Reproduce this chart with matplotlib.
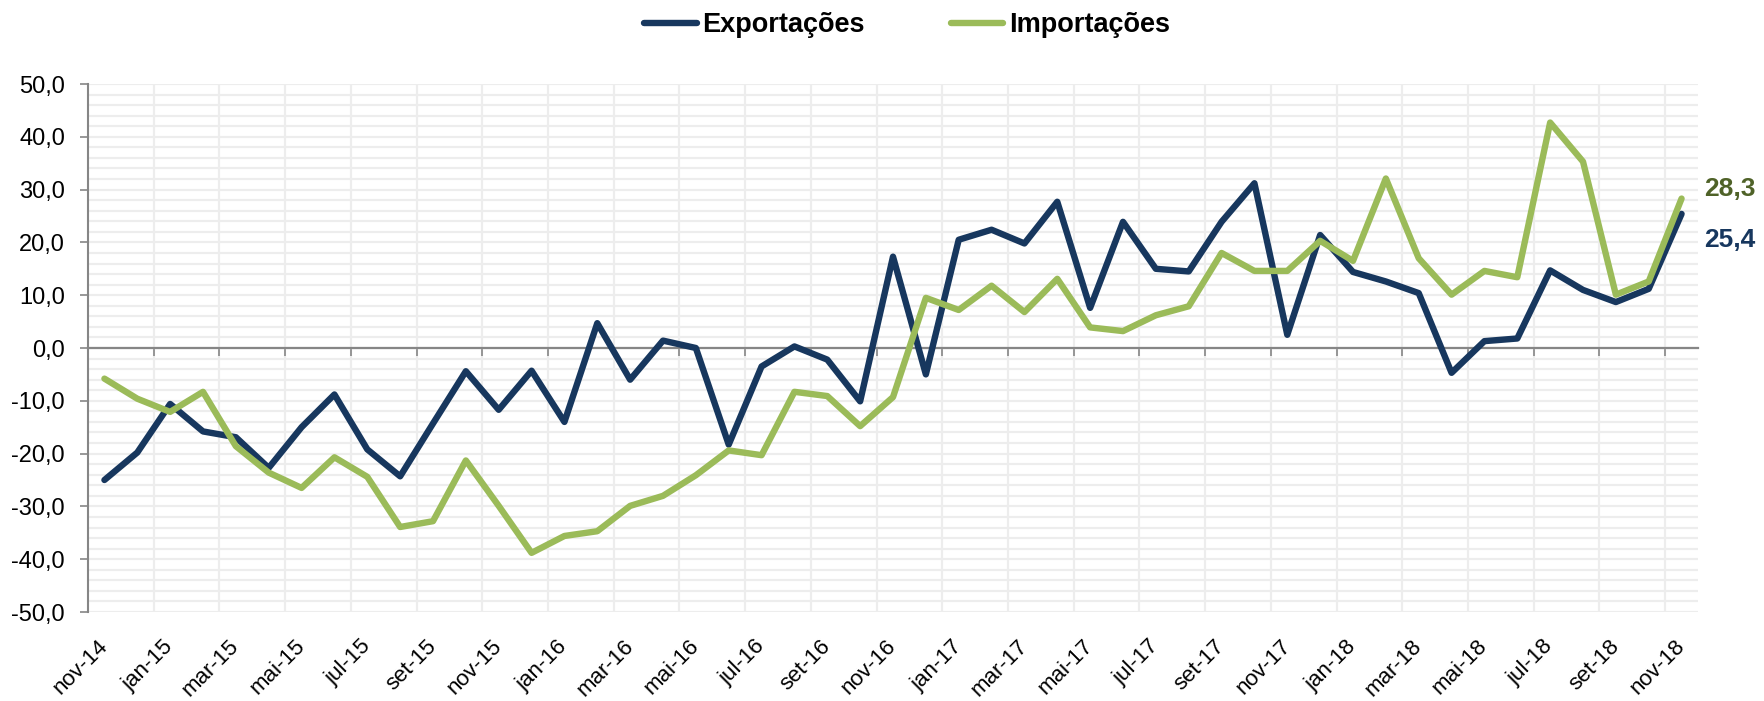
import matplotlib
matplotlib.use('Agg')
import matplotlib.pyplot as plt
from matplotlib.ticker import MultipleLocator, FuncFormatter

months = ['nov-14', 'dez-14', 'jan-15', 'fev-15', 'mar-15', 'abr-15', 'mai-15', 'jun-15',
          'jul-15', 'ago-15', 'set-15', 'out-15', 'nov-15', 'dez-15', 'jan-16', 'fev-16',
          'mar-16', 'abr-16', 'mai-16', 'jun-16', 'jul-16', 'ago-16', 'set-16', 'out-16',
          'nov-16', 'dez-16', 'jan-17', 'fev-17', 'mar-17', 'abr-17', 'mai-17', 'jun-17',
          'jul-17', 'ago-17', 'set-17', 'out-17', 'nov-17', 'dez-17', 'jan-18', 'fev-18',
          'mar-18', 'abr-18', 'mai-18', 'jun-18', 'jul-18', 'ago-18', 'set-18', 'out-18',
          'nov-18']

exportacoes = [-25.0, -19.8, -10.6, -15.8, -16.9, -22.7, -15.0, -8.8, -19.2, -24.3,
               -14.3, -4.4, -11.7, -4.3, -14.0, 4.7, -6.0, 1.4, 0.0, -18.3,
               -3.5, 0.3, -2.2, -10.1, 17.3, -5.0, 20.5, 22.4, 19.8, 27.7,
               7.6, 23.9, 15.0, 14.5, 23.9, 31.2, 2.5, 21.4, 14.4, 12.6,
               10.4, -4.7, 1.3, 1.8, 14.7, 11.0, 8.7, 11.2, 25.4]

importacoes = [-5.8, -9.6, -12.1, -8.3, -18.6, -23.6, -26.5, -20.7, -24.4, -33.9,
               -32.8, -21.3, -29.9, -38.8, -35.6, -34.7, -29.9, -28.0, -24.1, -19.4,
               -20.3, -8.3, -9.1, -14.8, -9.3, 9.5, 7.2, 11.8, 6.8, 13.1,
               3.9, 3.2, 6.2, 7.9, 18.0, 14.6, 14.6, 20.3, 16.5, 32.1,
               17.0, 10.1, 14.6, 13.4, 42.7, 35.3, 10.1, 12.6, 28.3]

series_names = ['Exportações', 'Importações']

plt.rcParams['font.family'] = ['Liberation Sans', 'DejaVu Sans']

W, H = 1764, 701
fig = plt.figure(figsize=(W / 100, H / 100), dpi=100)
ax = fig.add_axes([88 / W, 1 - 612 / H, (1698 - 88) / W, (612 - 84) / H])

x = list(range(len(months)))
blue = '#17375E'
green = '#9BBB59'
l1, = ax.plot(x, exportacoes, color=blue, lw=4.6, solid_joinstyle='round',
              solid_capstyle='round', label=series_names[0], zorder=3)
l2, = ax.plot(x, importacoes, color=green, lw=4.6, solid_joinstyle='round',
              solid_capstyle='round', label=series_names[1], zorder=4)

ax.set_xlim(-0.5, len(months) - 0.5)
ax.set_ylim(-50, 50)

# y axis
ax.yaxis.set_major_locator(MultipleLocator(10))
ax.yaxis.set_minor_locator(MultipleLocator(2))
ax.yaxis.set_major_formatter(FuncFormatter(lambda v, p: f'{v:.1f}'.replace('.', ',')))
ax.grid(axis='y', which='both', color='#EDEDED', lw=1.6, zorder=0)
ax.tick_params(axis='y', which='minor', length=0)
ax.tick_params(axis='y', which='major', length=5.5, width=1.2, color='#868686',
               labelsize=17, pad=11, labelcolor='black')

for s in ['top', 'right']:
    ax.spines[s].set_visible(False)
ax.spines['left'].set_color('#868686')
ax.spines['left'].set_linewidth(1.5)
ax.spines['bottom'].set_position(('data', 0))
ax.spines['bottom'].set_color('#868686')
ax.spines['bottom'].set_linewidth(1.6)
ax.spines['bottom'].set_zorder(2)

# x ticks on zero line at category boundaries
boundaries = [i + 0.5 for i in range(1, len(months) - 1, 2)]
ax.set_xticks(boundaries)
ax.set_xticklabels([])
ax.tick_params(axis='x', length=6, width=1.2, color='#868686', direction='out')
ax.grid(axis='x', which='major', color='#EDEDED', lw=1.6, zorder=0)

# labels at bottom
sec = ax.secondary_xaxis('bottom')
sec.set_xticks(x[::2])
sec.set_xticklabels(months[::2], rotation=45, ha='right', va='center',
                    rotation_mode='anchor', fontsize=16)
sec.tick_params(length=0, pad=22.5)
sec.spines['bottom'].set_visible(False)

# end labels
ax.annotate(f'{importacoes[-1]:.1f}'.replace('.', ','), xy=(x[-1], importacoes[-1]),
            xytext=(16.5, 7), textcoords='offset points', ha='left', va='center',
            fontsize=19, fontweight='bold', color='#4F6228', annotation_clip=False)
ax.annotate(f'{exportacoes[-1]:.1f}'.replace('.', ','), xy=(x[-1], exportacoes[-1]),
            xytext=(16.5, -18.5), textcoords='offset points', ha='left', va='center',
            fontsize=19, fontweight='bold', color=blue, annotation_clip=False)

fig.legend(handles=[l1, l2], loc='center', bbox_to_anchor=(907 / W, 1 - 25 / H),
           ncol=2, frameon=False, prop=dict(weight='bold', size=19.5),
           handlelength=1.93, handletextpad=0.2, columnspacing=3.2)

fig.savefig('out.png', dpi=100)
